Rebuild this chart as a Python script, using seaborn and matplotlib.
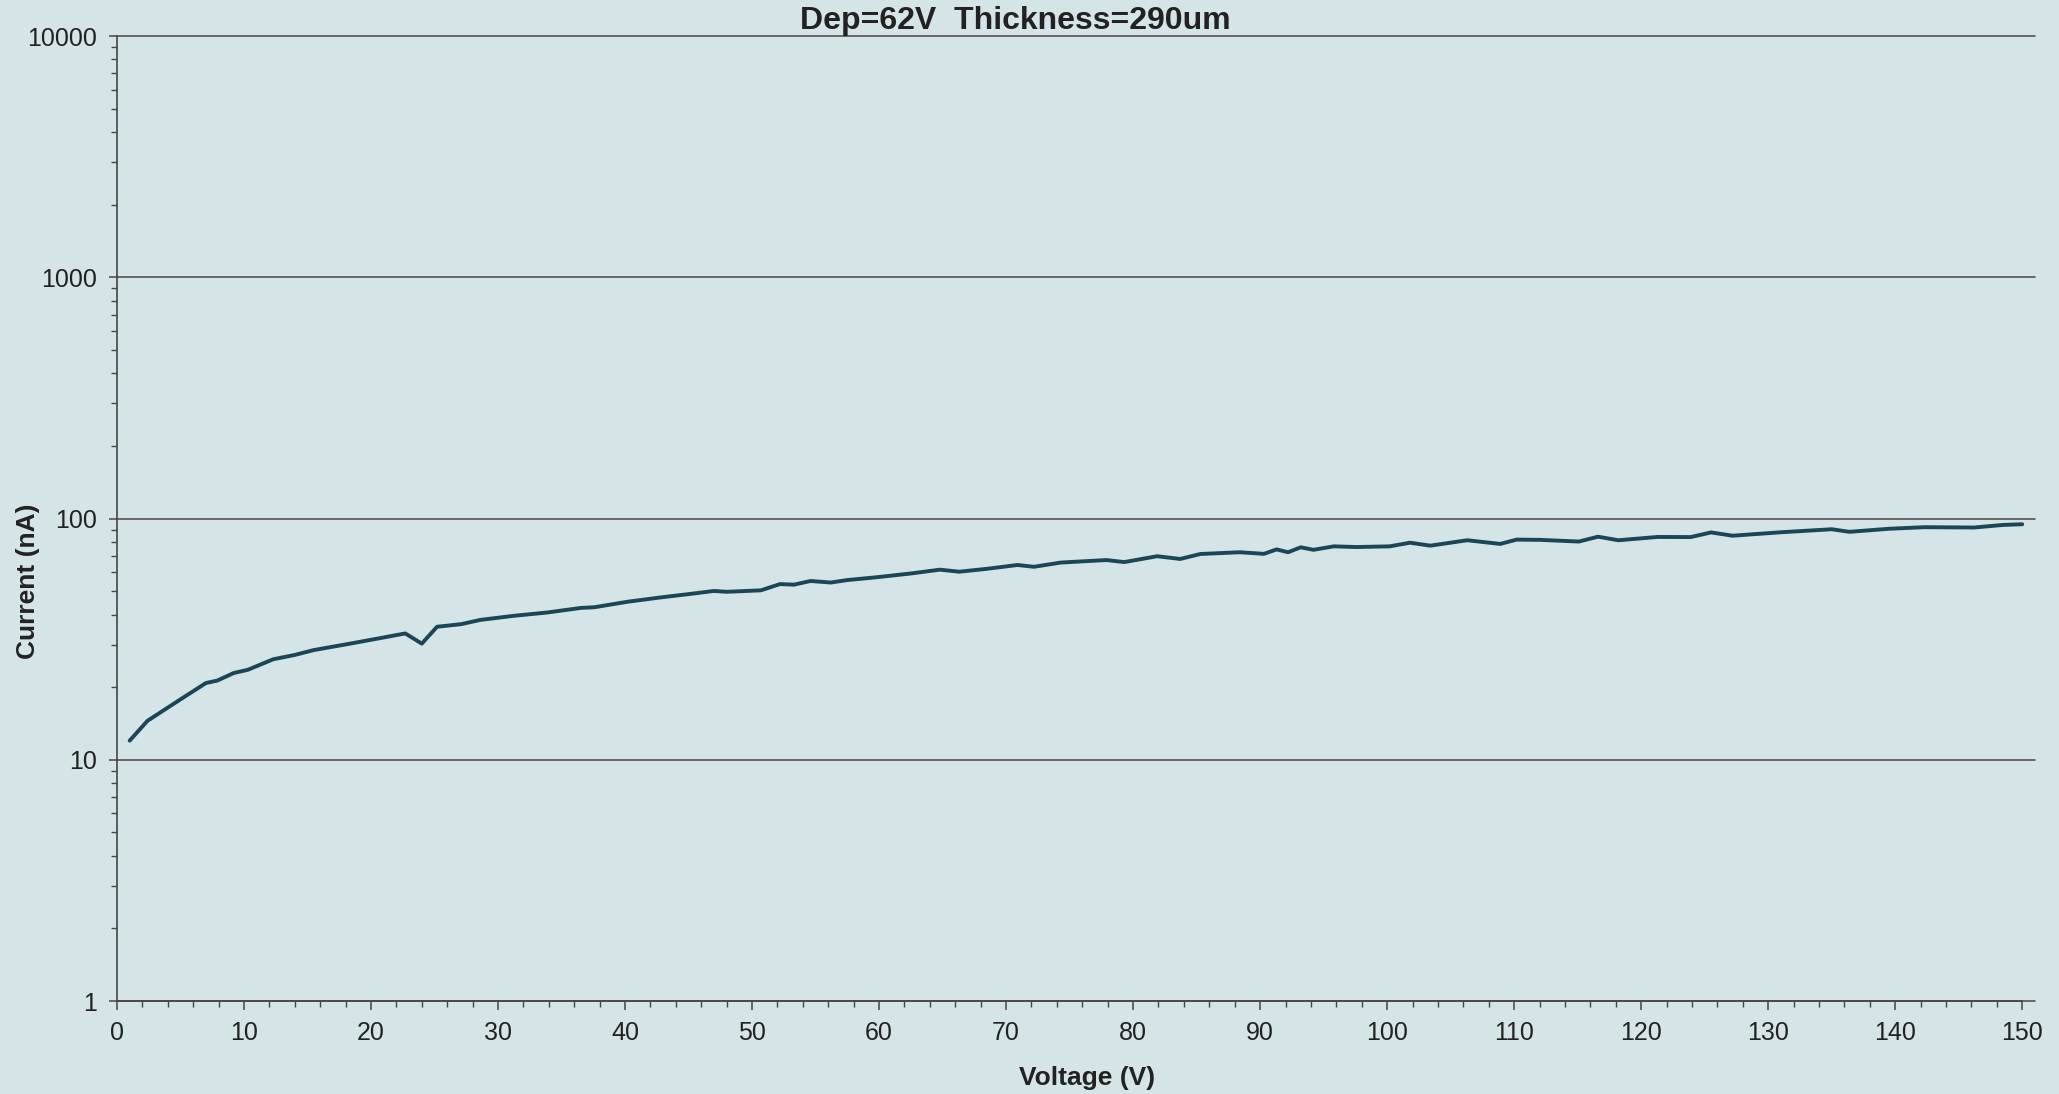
import matplotlib
matplotlib.use("Agg")
import matplotlib.pyplot as plt
import matplotlib.ticker as mticker
import pandas as pd
import seaborn as sns

# values
voltage = [1.0, 2.4, 5.0, 7.0, 7.9, 9.2, 10.3, 12.3, 14.0, 15.5, 18.2, 20.8,
           22.7, 24.0, 25.2, 27.1, 28.6, 31.2, 33.9, 36.5, 37.6, 40.2, 42.8,
           45.4, 47.0, 48.0, 50.7, 52.2, 53.3, 54.6, 56.2, 57.5, 59.8, 62.5,
           64.8, 66.3, 68.5, 70.9, 72.2, 74.3, 76.1, 77.9, 79.3, 81.9, 83.7,
           85.3, 88.4, 90.3, 91.3, 92.2, 93.2, 94.2, 95.8, 97.6, 100.2, 101.8,
           103.4, 106.3, 108.9, 110.2, 112.0, 115.1, 116.6, 118.2, 121.3,
           123.9, 125.5, 127.2, 131.1, 135.0, 136.4, 139.5, 142.3, 146.2,
           148.5, 150.0]
current = [12.0, 14.5, 17.8, 20.8, 21.3, 22.9, 23.6, 26.1, 27.2, 28.5, 30.2,
           32.0, 33.4, 30.3, 35.6, 36.5, 38.0, 39.5, 40.8, 42.6, 42.9, 45.2,
           47.1, 48.9, 50.1, 49.7, 50.4, 53.5, 53.2, 55.1, 54.3, 55.6, 57.1,
           59.2, 61.4, 60.2, 61.9, 64.2, 63.1, 65.7, 66.5, 67.3, 66.0, 69.8,
           68.0, 71.3, 72.5, 71.4, 74.5, 72.5, 76.0, 74.2, 76.7, 76.2, 76.7,
           79.4, 77.2, 81.3, 78.5, 81.8, 81.6, 80.3, 84.1, 81.3, 83.9, 83.8,
           87.6, 84.9, 87.8, 90.3, 88.1, 90.7, 92.1, 91.8, 94.1, 94.7]

y_ticks = [1, 10, 100, 1000, 10000]
y_tick_labels = ["1", "10", "100", "1000", "10000"]
x_ticks = list(range(0, 151, 10))

title = "Dep=62V  Thickness=290um"

paper = "#d5e4e7"
ink = "#4a4444"
curve_color = "#1c4656"

sns.set_theme(style="white", rc={"figure.facecolor": paper,
                                 "axes.facecolor": paper})
plt.rcParams["font.family"] = ["Liberation Sans", "DejaVu Sans"]

df = pd.DataFrame({"voltage": voltage, "current": current})

fig = plt.figure(figsize=(20.59, 10.94), dpi=100)
ax = fig.add_axes([0.0568, 0.085, 0.9315, 0.882])

sns.lineplot(data=df, x="voltage", y="current", ax=ax, color=curve_color,
             linewidth=2.8, sort=True)

ax.set_yscale("log")
ax.set_ylim(1, 10000)
ax.set_xlim(0, 151)
ax.set_yticks(y_ticks)
ax.set_yticklabels(y_tick_labels)
ax.yaxis.set_minor_locator(mticker.LogLocator(base=10, subs=range(2, 10)))
ax.yaxis.set_minor_formatter(mticker.NullFormatter())
ax.set_xticks(x_ticks)
ax.xaxis.set_minor_locator(mticker.MultipleLocator(2))

ax.set_xlabel("")
ax.set_ylabel("")

# horizontal gridlines only
ax.yaxis.grid(True, which="major", color=ink, linewidth=1.1)
ax.xaxis.grid(False)
for gl in ax.get_ygridlines():
    gl.set_clip_on(False)

for side in ["top", "right"]:
    ax.spines[side].set_visible(False)
for side in ["left", "bottom"]:
    ax.spines[side].set_color(ink)
    ax.spines[side].set_linewidth(1.2)
ax.spines["bottom"].set_bounds(0, 150)

ax.tick_params(axis="both", which="both", direction="out", colors=ink,
               labelcolor="#222222", labelsize=18)
ax.tick_params(axis="y", which="major", length=5.5, width=1.1, pad=9,
               left=True)
ax.tick_params(axis="y", which="minor", length=4.5, width=1.0, left=True)
ax.tick_params(axis="x", which="major", length=6.5, width=1.1, pad=8,
               bottom=True)
ax.tick_params(axis="x", which="minor", length=4.3, width=1.0, bottom=True)

fig.text(0.493, 0.981, title, ha="center", va="center", fontsize=23,
         fontweight="bold", color="#222222")
fig.text(0.0136, 0.469, "Current (nA)", ha="center", va="center",
         rotation=90, fontsize=19, fontweight="bold", color="#222222")
fig.text(0.528, 0.0146, "Voltage (V)", ha="center", va="center",
         fontsize=19, fontweight="bold", color="#222222")

fig.savefig("out.png", dpi=100, facecolor=paper)
